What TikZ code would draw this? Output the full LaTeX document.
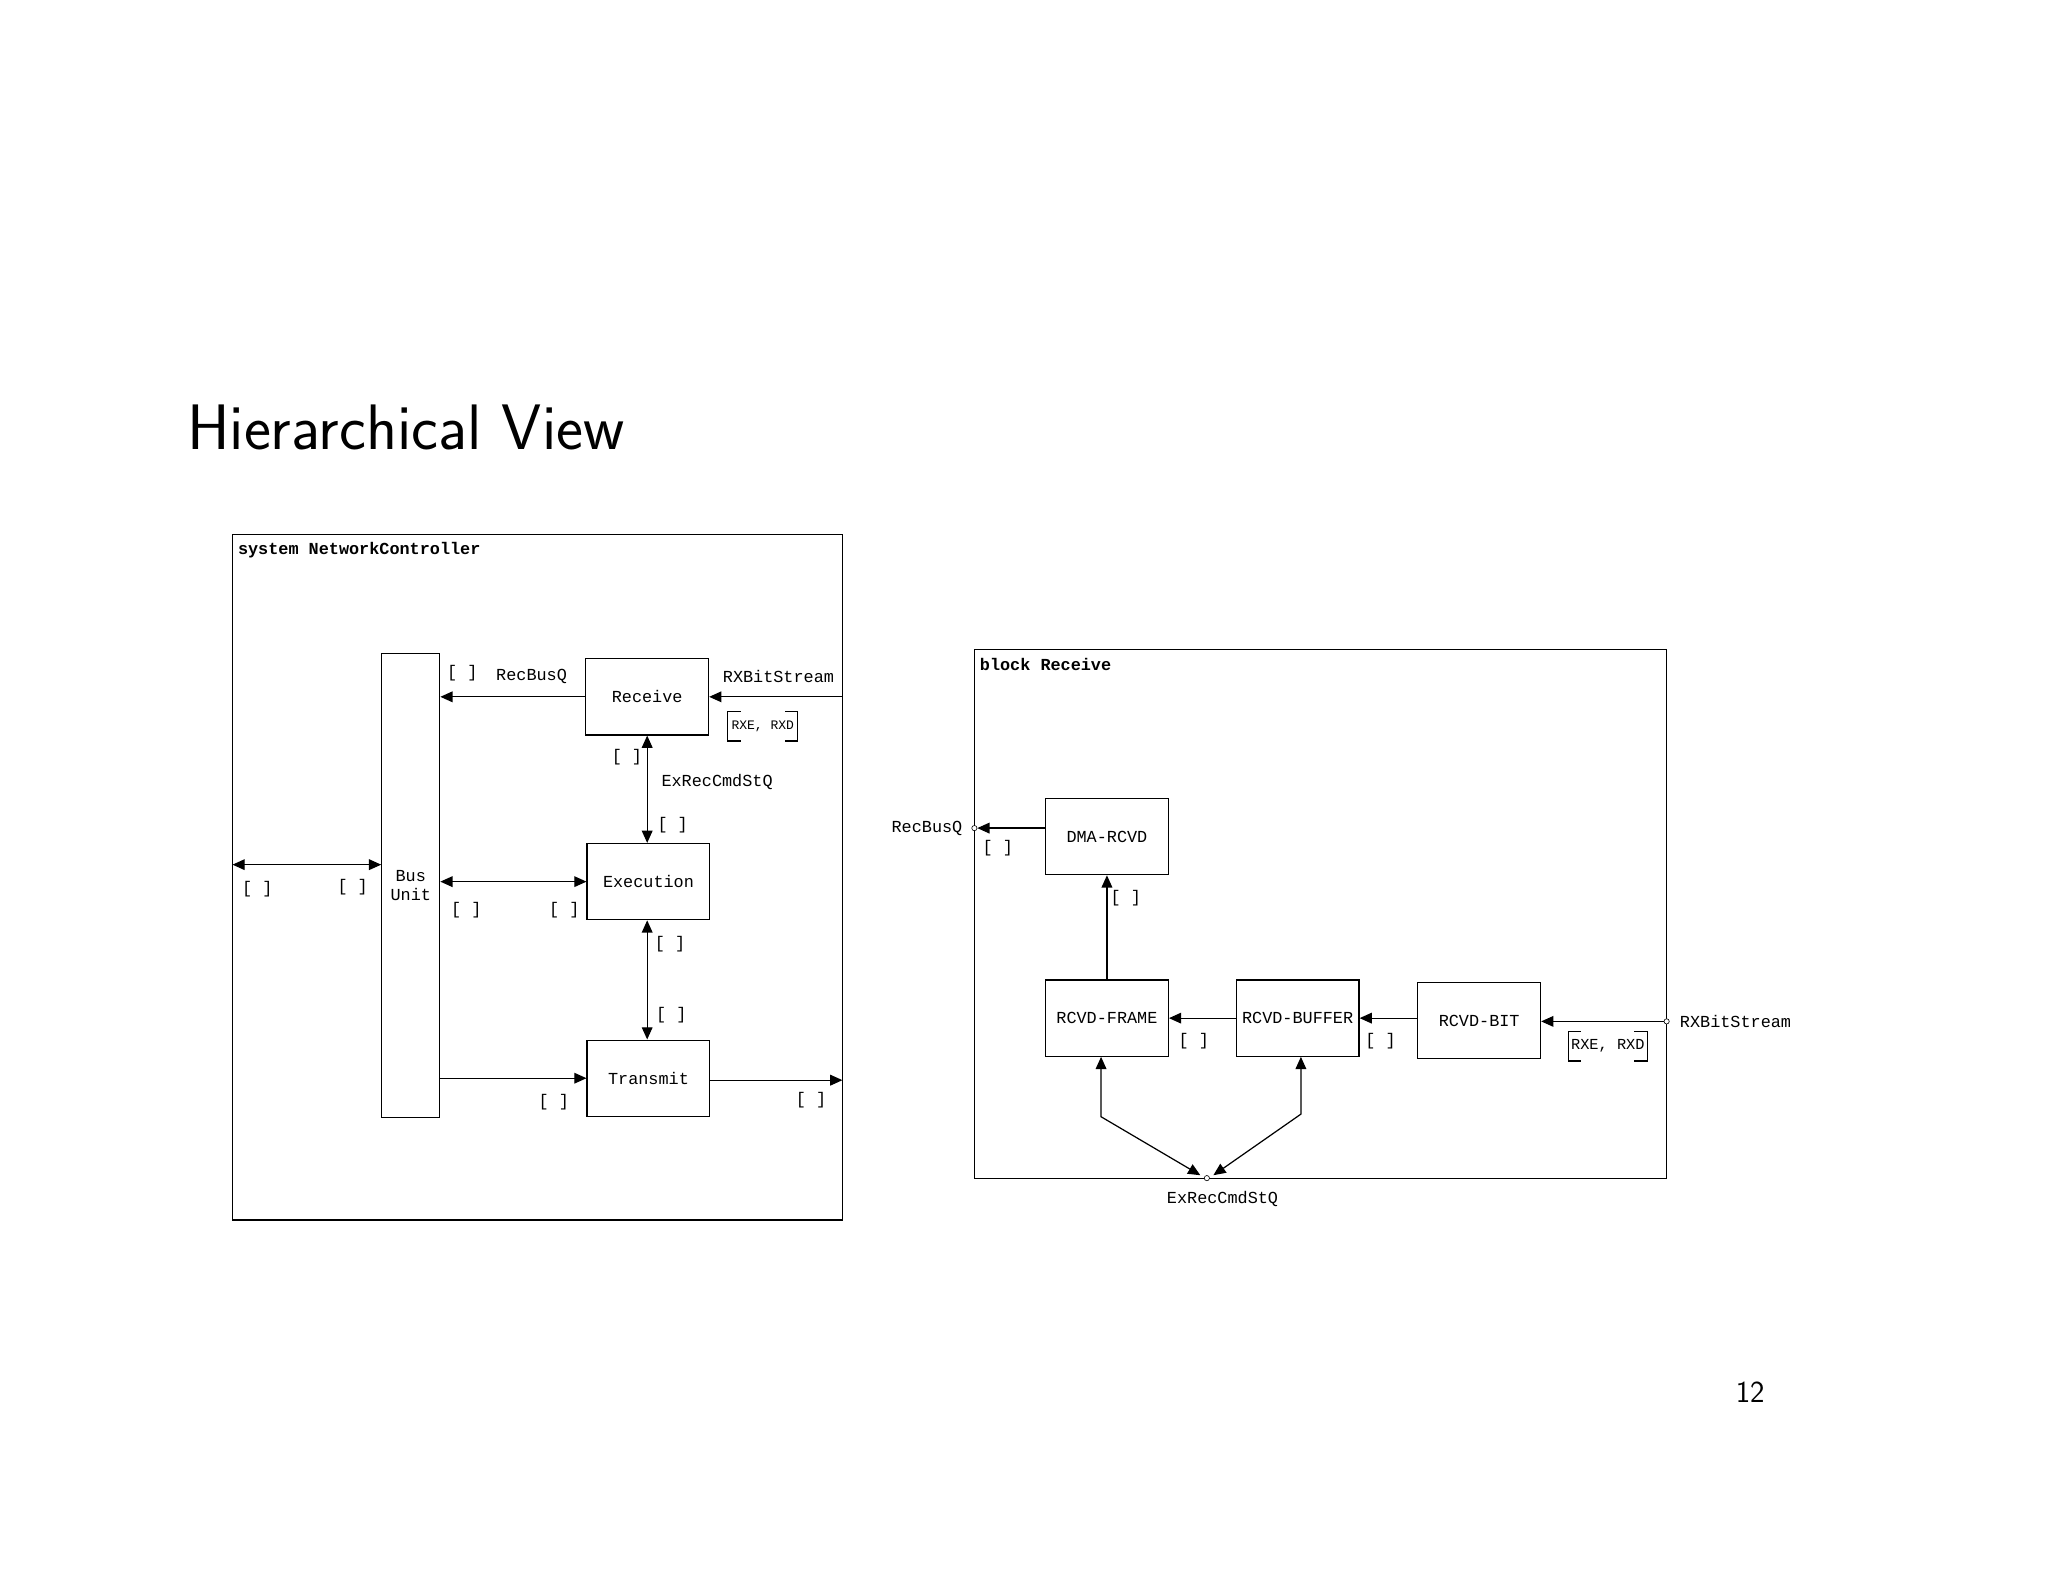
\documentclass[tikz,border=0pt]{standalone}
\usepackage{fontspec}
\newfontfamily\dmono{Liberation Mono}
\usetikzlibrary{arrows.meta}
\begin{document}
\begin{tikzpicture}[x=0.3mm,y=-0.3mm,
  blk/.style={draw,thick,minimum width=28.2mm,minimum height=17.5mm,inner sep=0pt,font=\dmono\fontsize{11}{13}\selectfont},
  lbl/.style={font=\dmono\fontsize{11}{13}\selectfont,inner sep=0pt},
  ttl/.style={font=\dmono\bfseries\fontsize{11}{13}\selectfont,inner sep=0pt,anchor=west},
  frm/.style={draw,thick},
  con/.style={thick,-{Triangle[length=8pt,width=7pt]}},
  bcon/.style={thick,{Triangle[length=8pt,width=7pt]}-{Triangle[length=8pt,width=7pt]}},
  prt/.style={circle,draw,inner sep=0pt,minimum size=1.2mm,fill=white}]
\useasboundingbox (0,0) rectangle (1568,1211);
\node[anchor=west,font=\sffamily\fontsize{42}{48}\selectfont,inner sep=0pt] (title) at (143,327) {Hierarchical View};
\node[font=\sffamily\fontsize{20}{24}\selectfont,inner sep=0pt] (pg) at (1340,1066) {12};
% left diagram
\draw[frm] (178,409) rectangle (645,934);
\node[ttl] (t1) at (182,421) {system NetworkController};
\node[draw,thick,minimum width=13.3mm,minimum height=106.5mm,inner sep=0pt,align=center,font=\dmono\fontsize{11}{13}\selectfont] (bus) at (314.5,678) {Bus\\Unit};
\node[blk] (rec) at (495.5,533.5) {Receive};
\node[blk] (exe) at (496.5,675) {Execution};
\node[blk] (tra) at (496.5,825.5) {Transmit};
\coordinate (rxin) at (645,533.5);
\coordinate (lext) at (178,662);
\coordinate (tout) at (645,827);
\draw[con] (rec.west) -- (bus.east |- rec.west);
\draw[con] (rxin) -- (rec.east);
\draw[bcon] (rec.south) -- (rec.south |- exe.north);
\draw[bcon] (lext) -- (bus.west |- lext);
\draw[bcon] (bus.east |- exe.west) -- (exe.west);
\draw[bcon] (exe.south -| rec.south) -- (rec.south |- tra.north);
\draw[con] (bus.east |- tra.west) -- (tra.west);
\draw[con] (tra.east |- tout) -- (tout);
\node[lbl] (l1) at (354,515) {[ ]};
\node[lbl] (l2) at (407,518) {RecBusQ};
\node[lbl] (l3) at (596,518) {RXBitStream};
\node[lbl,font=\dmono\fontsize{8.5}{10}\selectfont] (l4) at (584,556) {RXE, RXD};
\draw[thick] ([shift={(-0.8mm,3.4mm)}]l4.west) coordinate (a1) -- ++(3mm,0) (a1) -- ++(0,-6.8mm) -- ++(3mm,0);
\draw[thick] ([shift={(0.8mm,3.4mm)}]l4.east) coordinate (a2) -- ++(-3mm,0) (a2) -- ++(0,-6.8mm) -- ++(-3mm,0);
\node[lbl] (l5) at (480,580) {[ ]};
\node[lbl] (l6) at (549,599) {ExRecCmdStQ};
\node[lbl] (l7) at (515,632) {[ ]};
\node[lbl] (l8) at (197,681) {[ ]};
\node[lbl] (l9) at (270,679) {[ ]};
\node[lbl] (l10) at (357,697) {[ ]};
\node[lbl] (l11) at (432,697) {[ ]};
\node[lbl] (l12) at (513,723) {[ ]};
\node[lbl] (l13) at (514,777) {[ ]};
\node[lbl] (l14) at (424,844) {[ ]};
\node[lbl] (l15) at (621,842) {[ ]};
% right diagram
\draw[frm] (746,497) rectangle (1276,902);
\node[ttl] (t2) at (750,509) {block Receive};
\node[blk] (dma) at (847.5,640.5) {DMA-RCVD};
\node[blk] (frame) at (847.5,779.5) {RCVD-FRAME};
\node[blk] (buf) at (993.5,779.5) {RCVD-BUFFER};
\node[blk] (bit) at (1132.5,781.5) {RCVD-BIT};
\node[prt] (pRec) at (746,634) {};
\node[prt] (pRx) at (1276,782) {};
\node[prt] (pEx) at (924,902) {};
\draw[con] (dma.west |- pRec) -- (pRec.east);
\draw[con] (frame.north) -- (dma.south);
\draw[con] (buf.west) -- (frame.east);
\draw[con] (bit.west |- buf.east) -- (buf.east);
\draw[con] (pRx.west) -- (bit.east |- pRx);
\coordinate (fk) at (843,855);
\coordinate (bk) at (996,853);
\draw[bcon] (frame.south -| fk) -- (fk) -- ([xshift=-1.5mm]pEx.north);
\draw[bcon] (buf.south -| bk) -- (bk) -- ([xshift=1.5mm]pEx.north);
\node[lbl,anchor=east] (r1) at (737,634) {RecBusQ};
\node[lbl] (r2) at (764,649) {[ ]};
\node[lbl] (r3) at (862,688) {[ ]};
\node[lbl] (r4) at (914,797) {[ ]};
\node[lbl] (r5) at (1057,797) {[ ]};
\node[lbl,anchor=west] (r6) at (1286,782) {RXBitStream};
\node[lbl,font=\dmono\fontsize{10}{12}\selectfont] (r7) at (1231,801) {RXE, RXD};
\draw[thick] ([shift={(-0.6mm,3.4mm)}]r7.west) coordinate (b1) -- ++(3mm,0) (b1) -- ++(0,-6.8mm) -- ++(3mm,0);
\draw[thick] ([shift={(0.6mm,3.4mm)}]r7.east) coordinate (b2) -- ++(-3mm,0) (b2) -- ++(0,-6.8mm) -- ++(-3mm,0);
\node[lbl] (r8) at (936,918) {ExRecCmdStQ};
\end{tikzpicture}
\end{document}
